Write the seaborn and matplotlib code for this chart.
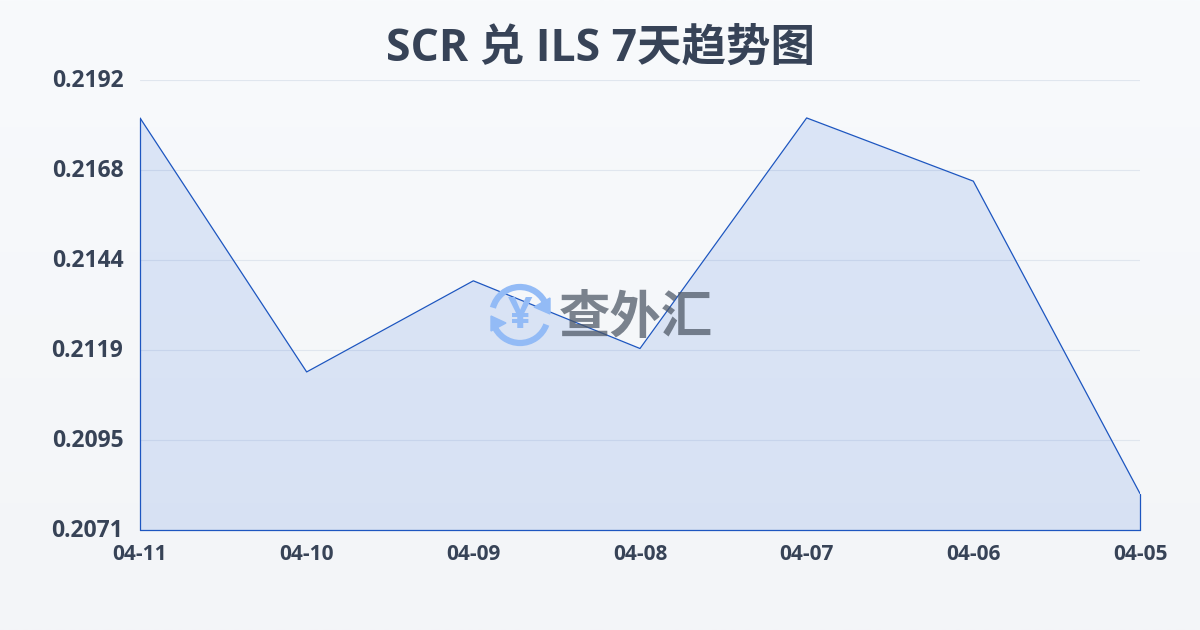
import matplotlib
matplotlib.use("Agg")
import matplotlib.pyplot as plt
from matplotlib.patches import Arc, Polygon
from matplotlib.transforms import ScaledTranslation
import numpy as np
import pandas as pd
import seaborn as sns

sns.set_theme(style="white")
plt.rcParams['font.family'] = ['Open Sans', 'Noto Sans CJK SC', 'DejaVu Sans']

dates = ['04-11', '04-10', '04-09', '04-08', '04-07', '04-06', '04-05']
rates = [0.21818, 0.21135, 0.21380, 0.21198, 0.21818, 0.21648, 0.20808]
y_ticks = [0.2071, 0.20952, 0.21194, 0.21436, 0.21678, 0.2192]
y_labels = ['0.2071', '0.2095', '0.2119', '0.2144', '0.2168', '0.2192']
y_min = 0.2071
y_max = 0.2192
title = 'SCR 兑 ILS 7天趋势图'

TEXT = '#374357'
BLUE = '#1d56c0'
ICON = '#93bbf6'

df = pd.DataFrame({'date': dates, 'rate': rates})
df['pos'] = range(len(df))

fig = plt.figure(figsize=(12, 6.3), dpi=100)

# page background, light vertical gradient
bg = fig.add_axes([0, 0, 1, 1], zorder=0)
bg.imshow(np.linspace(0, 1, 256).reshape(-1, 1), aspect='auto',
          cmap=matplotlib.colors.LinearSegmentedColormap.from_list('bg', ['#f8fafc', '#f3f5f8']))
bg.axis('off')

ax = fig.add_axes([140 / 1200, 100 / 630, 1000 / 1200, 450 / 630], zorder=1)
ax.patch.set_alpha(0)

ax.fill_between(df['pos'], df['rate'], y_min, color='#2060d8', alpha=0.13, linewidth=0, zorder=1)
sns.lineplot(data=df, x='pos', y='rate', ax=ax, color=BLUE, linewidth=0.9, zorder=3)
# outline closes down the sides and along the base
ax.plot([0, 0], [y_min, rates[0]], color=BLUE, linewidth=0.9, zorder=3, clip_on=False)
ax.plot([6, 6], [y_min, rates[-1]], color=BLUE, linewidth=0.9, zorder=3, clip_on=False)
ax.plot([0, 6], [y_min, y_min], color=BLUE, linewidth=0.9, zorder=3, clip_on=False)

ax.set_xlim(0, len(dates) - 1)
ax.set_ylim(y_min, y_max)
ax.set_xticks(df['pos'])
ax.set_xticklabels(dates, fontsize=15, fontweight='bold', color=TEXT)
ax.set_yticks(y_ticks)
ax.set_yticklabels(y_labels, fontsize=16.5, fontweight='bold', color=TEXT)
ax.set_xlabel('')
ax.set_ylabel('')
ax.tick_params(axis='x', length=0, pad=10)
ax.tick_params(axis='y', length=0, pad=12)
# labels sit about 2px above their gridlines
up = ScaledTranslation(0, 2 / 100, fig.dpi_scale_trans)
for lab in ax.get_yticklabels():
    lab.set_transform(lab.get_transform() + up)
ax.grid(axis='y', color='#e0e6ee', linewidth=0.8, zorder=0)
ax.set_axisbelow(True)
sns.despine(ax=ax, left=True, bottom=True)

fig.text(0.5, 1 - 49 / 630, title, ha='center', va='center', fontsize=32, fontweight='bold', color=TEXT)

# watermark, in a pixel space overlay
wm = fig.add_axes([0, 0, 1, 1], zorder=2)
wm.set_xlim(0, 1200)
wm.set_ylim(630, 0)
wm.axis('off')
wm.add_patch(Arc((520, 315), 56, 56, theta1=195, theta2=340, color=ICON, linewidth=4.5))
wm.add_patch(Arc((520, 315), 56, 56, theta1=20, theta2=160, color=ICON, linewidth=4.5))
wm.add_patch(Polygon([(550, 298), (550, 314), (534, 307)], color=ICON))
wm.add_patch(Polygon([(491, 316), (491, 331), (506, 323)], color=ICON))
wm.text(520, 316, '¥', ha='center', va='center', fontsize=31, fontweight='bold', color=ICON)
wm.text(636, 320, '查外汇', ha='center', va='center', fontsize=37, fontweight='bold',
        color='#4b5563', alpha=0.72)

fig.savefig('out.png', dpi=100)
